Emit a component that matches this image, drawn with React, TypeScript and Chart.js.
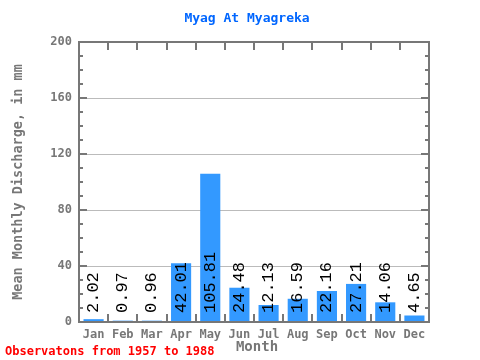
import React, { useEffect, useRef } from "react";
import { Chart, registerables } from "chart.js";

Chart.register(...registerables);

const months = ["Jan", "Feb", "Mar", "Apr", "May", "Jun", "Jul", "Aug", "Sep", "Oct", "Nov", "Dec"];
const discharge = [2.02, 0.97, 0.96, 42.01, 105.81, 24.48, 12.13, 16.59, 22.16, 27.21, 14.06, 4.65];
const yTicks = [0, 40, 80, 120, 160, 200];
const titleText = "Myag At Myagreka";
const yTitle = "Mean Monthly Discharge, in mm";
const xTitle = "Month";
const footerText = "Observatons from 1957 to 1988";

const MONO = "'DejaVu Sans Mono', monospace";
const COURIER = "'Liberation Mono', monospace";

const framePlugin = {
  id: "frame",
  beforeDatasetsDraw(chart: any) {
    const { ctx, chartArea } = chart;
    const y = chart.scales.y;
    ctx.save();
    ctx.strokeStyle = "#bbbbbb";
    ctx.lineWidth = 1;
    for (const v of yTicks) {
      if (v === 0 || v === 200) continue;
      const py = Math.round(y.getPixelForValue(v)) + 0.5;
      ctx.beginPath();
      ctx.moveTo(chartArea.left, py);
      ctx.lineTo(chartArea.right, py);
      ctx.stroke();
    }
    ctx.restore();
  },
  afterDatasetsDraw(chart: any) {
    const { ctx, chartArea } = chart;
    const y = chart.scales.y;
    const x = chart.scales.x;
    const ds = chart.data.datasets[0].data as number[];
    ctx.save();
    // value labels
    ctx.fillStyle = "#000";
    ctx.font = `17px ${COURIER}`;
    ctx.textAlign = "left";
    ctx.textBaseline = "middle";
    ds.forEach((v, i) => {
      const px = x.getPixelForValue(i);
      ctx.save();
      ctx.translate(px, y.getPixelForValue(0) - 9);
      ctx.rotate(-Math.PI / 2);
      ctx.fillText(v.toFixed(2), 0, 0);
      ctx.restore();
    });
    // frame
    ctx.strokeStyle = "#777777";
    ctx.lineWidth = 2;
    ctx.strokeRect(chartArea.left, chartArea.top, chartArea.right - chartArea.left, chartArea.bottom - chartArea.top);
    // y ticks
    for (let v = 0; v <= 200; v += 10) {
      const py = Math.round(y.getPixelForValue(v));
      const major = v % 40 === 0;
      const len = major ? 8 : 4;
      ctx.beginPath();
      ctx.moveTo(chartArea.left, py);
      ctx.lineTo(chartArea.left + len, py);
      ctx.moveTo(chartArea.right, py);
      ctx.lineTo(chartArea.right - len, py);
      ctx.stroke();
    }
    // x ticks at boundaries
    const n = months.length;
    const w = (chartArea.right - chartArea.left) / n;
    for (let i = 1; i < n; i++) {
      const px = Math.round(chartArea.left + i * w);
      ctx.beginPath();
      ctx.moveTo(px, chartArea.top);
      ctx.lineTo(px, chartArea.top + 8);
      ctx.moveTo(px, chartArea.bottom);
      ctx.lineTo(px, chartArea.bottom - 8);
      ctx.stroke();
    }
    ctx.restore();
  },
  afterDraw(chart: any) {
    const { ctx } = chart;
    ctx.save();
    ctx.font = `bold 13px ${MONO}`;
    ctx.fillStyle = "#0066ff";
    ctx.textAlign = "center";
    ctx.textBaseline = "middle";
    ctx.fillText(titleText, 247, 19);
    ctx.font = `bold 12px ${MONO}`;
    ctx.fillStyle = "#ff0000";
    ctx.textAlign = "left";
    ctx.fillText(footerText, 5, 352);
    ctx.font = `bold 14px ${MONO}`;
    ctx.fillStyle = "#777";
    ctx.textAlign = "center";
    ctx.fillText(xTitle, 257, 347);
    ctx.restore();
  },
};

export default function App() {
  const ref = useRef<HTMLCanvasElement>(null);
  useEffect(() => {
    const chart = new Chart(ref.current!, {
      type: "bar",
      data: {
        labels: months,
        datasets: [
          {
            data: discharge,
            backgroundColor: "#3399ff",
            borderWidth: 0,
            barPercentage: 0.69,
            categoryPercentage: 1,
          },
        ],
      },
      options: {
        animation: false,
        responsive: false,
        maintainAspectRatio: false,
        layout: { padding: { left: 0, right: 51, top: 42, bottom: 0 } },
        plugins: { legend: { display: false }, tooltip: { enabled: false }, title: { display: false } },
        scales: {
          x: {
            grid: { display: false, drawTicks: false },
            border: { display: false },
            ticks: { color: "#777", font: { family: MONO, size: 12, weight: "bold" }, padding: 6, maxRotation: 0 },
            afterFit: (s: any) => {
              s.height = 38;
            },
          },
          y: {
            min: 0,
            max: 200,
            afterBuildTicks: (s: any) => {
              s.ticks = yTicks.map((v) => ({ value: v }));
            },
            grid: { display: false, drawTicks: false },
            border: { display: false },
            ticks: { color: "#777", font: { family: MONO, size: 12, weight: "bold" }, padding: 7 },
            title: { display: true, text: yTitle, color: "#777", font: { family: MONO, size: 13.5, weight: "bold" }, padding: { top: 10 } },
            afterFit: (s: any) => {
              s.width = 79;
            },
          },
        },
      },
      plugins: [framePlugin],
    });
    return () => chart.destroy();
  }, []);
  return (
    <div style={{ position: "fixed", left: 0, top: 0, width: 480, height: 360, background: "#fff" }}>
      <canvas ref={ref} width={480} height={360} style={{ width: 480, height: 360 }} />
    </div>
  );
}
